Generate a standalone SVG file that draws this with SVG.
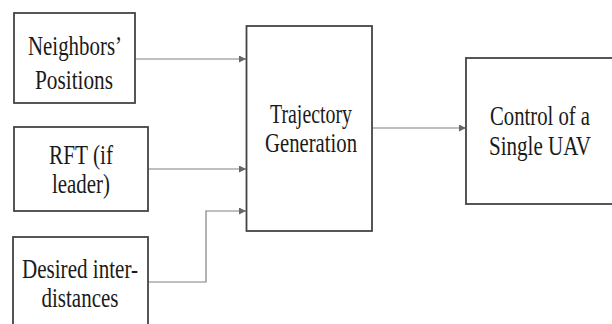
<svg xmlns="http://www.w3.org/2000/svg" width="612" height="324" viewBox="0 0 612 324">
<defs>
<marker id="arr" markerWidth="8" markerHeight="8" refX="7" refY="3.5" orient="auto" markerUnits="userSpaceOnUse">
<path d="M0,0 L7,3.5 L0,7 Z" fill="#666"/>
</marker>
<style>
.box{fill:#fff;stroke:#444;stroke-width:1.8}
.lbl{font-family:'Liberation Serif','Times New Roman',serif;font-size:28px;fill:#1a1a1a;text-anchor:middle}
.conn{fill:none;stroke:#808080;stroke-width:1.2}
</style>
</defs>
<rect width="612" height="324" fill="#fff"/>
<g id="connectors">
<path class="conn" d="M136,59 H246" marker-end="url(#arr)"/>
<path class="conn" d="M148,169 H246" marker-end="url(#arr)"/>
<path class="conn" d="M148,282 H206 V211 H246" marker-end="url(#arr)"/>
<path class="conn" d="M372,128 H466" marker-end="url(#arr)"/>
</g>
<g id="neighbors">
<rect class="box" x="14" y="13" width="121" height="90"/>
<text class="lbl" x="75" y="55" textLength="94" lengthAdjust="spacingAndGlyphs">Neighbors’</text>
<text class="lbl" x="74" y="89" textLength="78" lengthAdjust="spacingAndGlyphs">Positions</text>
</g>
<g id="rft">
<rect class="box" x="14" y="127" width="134" height="84"/>
<text class="lbl" x="81" y="164" textLength="64" lengthAdjust="spacingAndGlyphs">RFT (if</text>
<text class="lbl" x="81" y="193" textLength="58" lengthAdjust="spacingAndGlyphs">leader)</text>
</g>
<g id="desired">
<rect class="box" x="13" y="237" width="135" height="100"/>
<text class="lbl" x="80" y="278" textLength="116" lengthAdjust="spacingAndGlyphs">Desired inter-</text>
<text class="lbl" x="80" y="307" textLength="77" lengthAdjust="spacingAndGlyphs">distances</text>
</g>
<g id="trajectory">
<rect class="box" x="246.5" y="26" width="125.5" height="205"/>
<text class="lbl" x="311" y="123" textLength="82" lengthAdjust="spacingAndGlyphs">Trajectory</text>
<text class="lbl" x="311" y="152" textLength="92" lengthAdjust="spacingAndGlyphs">Generation</text>
</g>
<g id="control">
<rect class="box" x="466" y="58" width="150" height="146"/>
<text class="lbl" x="540" y="125" textLength="100" lengthAdjust="spacingAndGlyphs">Control of a</text>
<text class="lbl" x="540" y="155" textLength="102" lengthAdjust="spacingAndGlyphs">Single UAV</text>
</g>
</svg>
